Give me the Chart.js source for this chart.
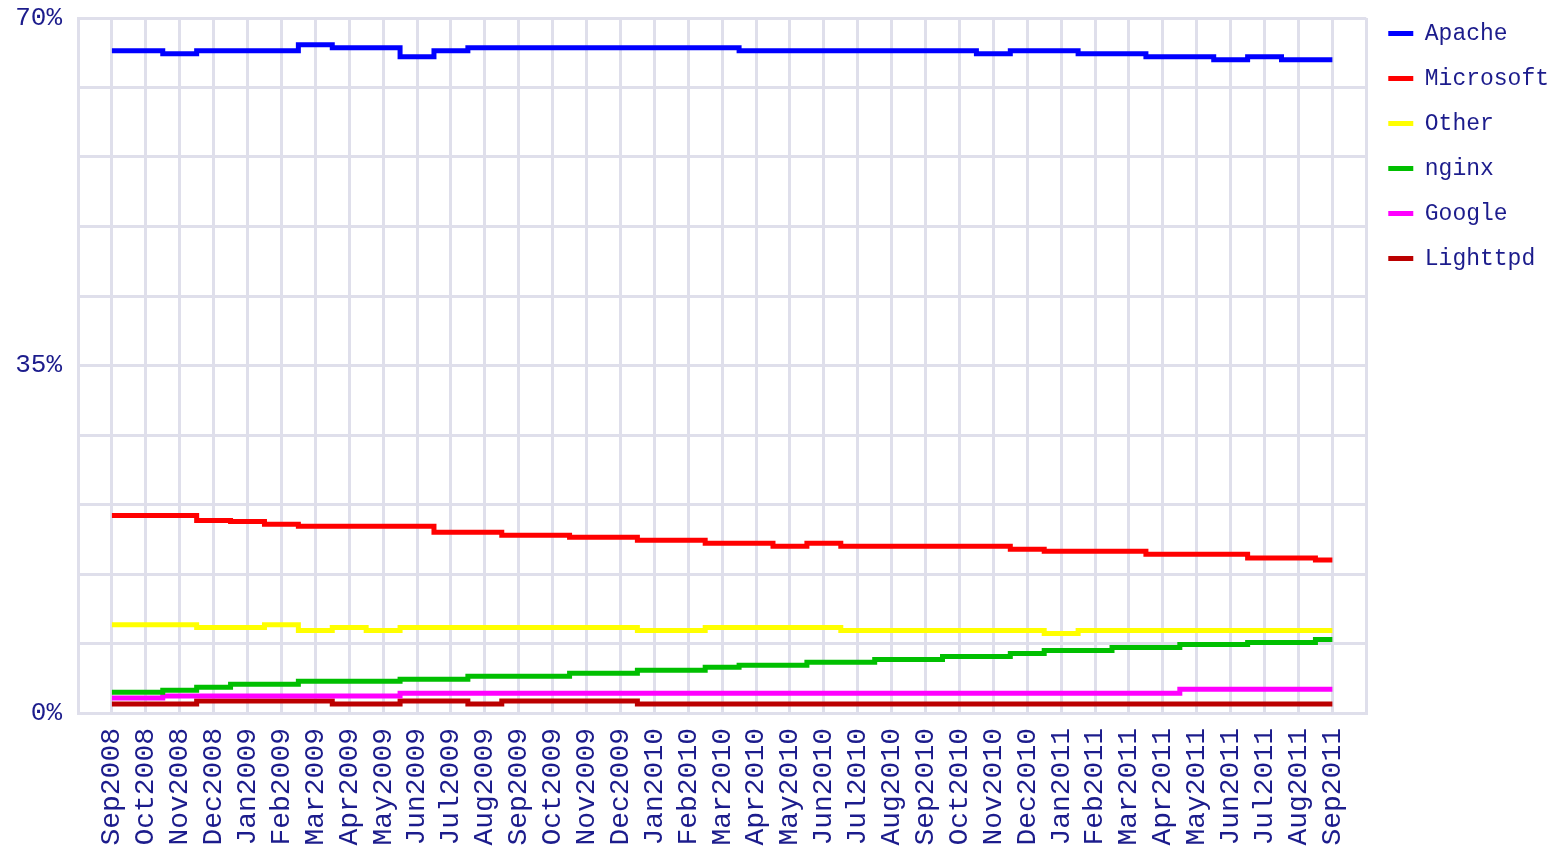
<!DOCTYPE html>
<html>
<head>
<meta charset="utf-8">
<script src="https://cdn.jsdelivr.net/npm/chart.js@4/dist/chart.umd.min.js"></script>
<style>
    html, body { margin: 0; padding: 0; background: #fff; }
    #wrap { width: 1559px; height: 848px; position: relative; }
</style>
</head>
<body>
<div id="wrap"><canvas id="serverShareChart"></canvas></div>
<script>
    const months = ['Sep2008', 'Oct2008', 'Nov2008', 'Dec2008', 'Jan2009', 'Feb2009', 'Mar2009', 'Apr2009', 'May2009',
        'Jun2009', 'Jul2009', 'Aug2009', 'Sep2009', 'Oct2009', 'Nov2009', 'Dec2009', 'Jan2010', 'Feb2010', 'Mar2010',
        'Apr2010', 'May2010', 'Jun2010', 'Jul2010', 'Aug2010', 'Sep2010', 'Oct2010', 'Nov2010', 'Dec2010', 'Jan2011',
        'Feb2011', 'Mar2011', 'Apr2011', 'May2011', 'Jun2011', 'Jul2011', 'Aug2011', 'Sep2011'];

    const apache = [66.7, 66.7, 66.4, 66.7, 66.7, 66.7, 67.3, 67.0, 67.0, 66.1, 66.7, 67.0, 67.0, 67.0, 67.0, 67.0, 67.0,
        67.0, 67.0, 66.7, 66.7, 66.7, 66.7, 66.7, 66.7, 66.7, 66.4, 66.7, 66.7, 66.4, 66.4, 66.1, 66.1, 65.8, 66.1, 65.8, 65.8];
    const microsoft = [19.9, 19.9, 19.9, 19.4, 19.3, 19.0, 18.8, 18.8, 18.8, 18.8, 18.2, 18.2, 17.9, 17.9, 17.7, 17.7, 17.4,
        17.4, 17.1, 17.1, 16.8, 17.1, 16.8, 16.8, 16.8, 16.8, 16.8, 16.5, 16.3, 16.3, 16.3, 16.0, 16.0, 16.0, 15.6, 15.6, 15.4];
    const other = [8.9, 8.9, 8.9, 8.6, 8.6, 8.9, 8.3, 8.6, 8.3, 8.6, 8.6, 8.6, 8.6, 8.6, 8.6, 8.6, 8.3, 8.3, 8.6, 8.6, 8.6,
        8.6, 8.3, 8.3, 8.3, 8.3, 8.3, 8.3, 8.0, 8.3, 8.3, 8.3, 8.3, 8.3, 8.3, 8.3, 8.3];
    const nginx = [2.1, 2.1, 2.3, 2.6, 2.9, 2.9, 3.2, 3.2, 3.2, 3.4, 3.4, 3.7, 3.7, 3.7, 4.0, 4.0, 4.3, 4.3, 4.6, 4.8, 4.8,
        5.1, 5.1, 5.4, 5.4, 5.7, 5.7, 6.0, 6.3, 6.3, 6.6, 6.6, 6.9, 6.9, 7.1, 7.1, 7.4];
    const google = [1.5, 1.5, 1.7, 1.7, 1.7, 1.7, 1.7, 1.7, 1.7, 2.0, 2.0, 2.0, 2.0, 2.0, 2.0, 2.0, 2.0, 2.0, 2.0, 2.0, 2.0,
        2.0, 2.0, 2.0, 2.0, 2.0, 2.0, 2.0, 2.0, 2.0, 2.0, 2.0, 2.4, 2.4, 2.4, 2.4, 2.4];
    const lighttpd = [0.9, 0.9, 0.9, 1.2, 1.2, 1.2, 1.2, 0.9, 0.9, 1.2, 1.2, 0.9, 1.2, 1.2, 1.2, 1.2, 0.9, 0.9, 0.9, 0.9,
        0.9, 0.9, 0.9, 0.9, 0.9, 0.9, 0.9, 0.9, 0.9, 0.9, 0.9, 0.9, 0.9, 0.9, 0.9, 0.9, 0.9];

    const yTicks = [0, 35, 70];

    const textColor = '#1c1c8c';
    const gridColor = '#dfdfeb';
    const monoFont = '"Liberation Mono", "DejaVu Sans Mono", monospace';

    function series(label, values, color) {
        return {
            label: label,
            data: values.map((v, i) => ({x: i, y: v})),
            borderColor: color,
            backgroundColor: color,
            borderWidth: 5,
            pointRadius: 0,
            stepped: 'middle',
            fill: false
        };
    }

    new Chart(document.getElementById('serverShareChart').getContext('2d'), {
        type: 'line',
        data: {
            datasets: [
                series('Apache', apache, '#0000ff'),
                series('Microsoft', microsoft, '#ff0000'),
                series('Other', other, '#ffff00'),
                series('nginx', nginx, '#00bf00'),
                series('Google', google, '#ff00ff'),
                series('Lighttpd', lighttpd, '#bb0000')
            ]
        },
        options: {
            responsive: true,
            maintainAspectRatio: false,
            animation: false,
            layout: {padding: 0},
            scales: {
                x: {
                    type: 'linear',
                    min: -1,
                    max: months.length,
                    grid: {color: gridColor, lineWidth: 3, drawTicks: false},
                    border: {display: true, color: gridColor, width: 3},
                    ticks: {
                        stepSize: 1,
                        autoSkip: false,
                        minRotation: 90,
                        maxRotation: 90,
                        padding: 15,
                        color: textColor,
                        font: {family: monoFont, size: 28},
                        callback: (v) => months[Math.round(v)] || ''
                    },
                    afterFit: (scale) => { scale.height = 135; }
                },
                y: {
                    min: 0,
                    max: 70,
                    grid: {color: gridColor, lineWidth: 3, drawTicks: false},
                    border: {display: true, color: gridColor, width: 3},
                    ticks: {
                        stepSize: 7,
                        padding: 16,
                        color: textColor,
                        // small line height keeps the plot top close to the canvas edge
                        font: {family: monoFont, size: 26, lineHeight: '4px'},
                        callback: (v) => yTicks.includes(Math.round(v)) ? Math.round(v) + '%' : ''
                    },
                    afterFit: (scale) => { scale.width = 78; }
                }
            },
            plugins: {
                legend: {
                    position: 'right',
                    align: 'start',
                    maxWidth: 193,
                    labels: {
                        usePointStyle: true,
                        pointStyle: 'line',
                        pointStyleWidth: 25,
                        padding: 22,
                        color: textColor,
                        font: {family: monoFont, size: 23}
                    }
                },
                tooltip: {enabled: false}
            }
        }
    });
</script>
</body>
</html>
